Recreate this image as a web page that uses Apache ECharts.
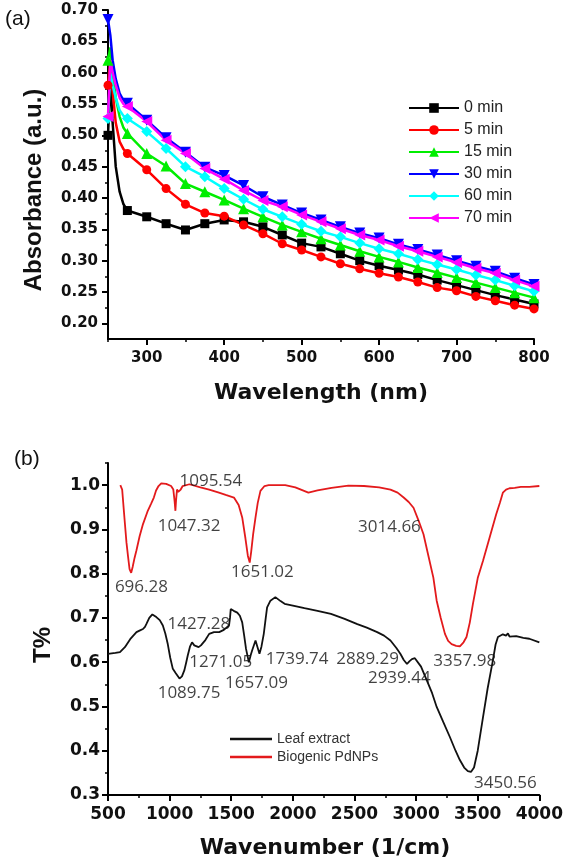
<!DOCTYPE html>
<html><head><meta charset="utf-8">
<script src="https://cdn.jsdelivr.net/npm/echarts@6/dist/echarts.min.js"></script>
<style>html,body{margin:0;padding:0;background:#fff}#c{width:566px;height:866px}</style>
</head><body><div id="c"></div>
<script>
// ---------- Panel (a): UV-Vis ----------
const uvWavelength = [250,253,256,260,265,270,275,300,325,350,375,400,425,450,475,500,525,550,575,600,625,650,675,700,725,750,775,800];
const uv0min  = [0.50,0.59,0.52,0.45,0.41,0.39,0.380,0.370,0.359,0.349,0.359,0.365,0.362,0.354,0.341,0.328,0.322,0.311,0.300,0.292,0.285,0.278,0.269,0.261,0.253,0.245,0.238,0.231];
const uv5min  = [0.58,0.62,0.57,0.52,0.49,0.478,0.471,0.445,0.415,0.390,0.376,0.371,0.357,0.343,0.327,0.317,0.306,0.295,0.287,0.280,0.274,0.266,0.257,0.252,0.243,0.236,0.229,0.223];
const uv15min = [0.62,0.64,0.60,0.56,0.53,0.512,0.503,0.471,0.451,0.423,0.410,0.397,0.383,0.370,0.357,0.346,0.335,0.325,0.315,0.306,0.298,0.289,0.281,0.273,0.265,0.257,0.249,0.241];
const uv30min = [0.685,0.66,0.62,0.59,0.567,0.556,0.551,0.524,0.496,0.473,0.449,0.436,0.420,0.402,0.389,0.376,0.365,0.354,0.344,0.336,0.326,0.318,0.309,0.300,0.291,0.283,0.272,0.262];
const uv60min = [0.527,0.60,0.58,0.56,0.54,0.531,0.527,0.506,0.479,0.450,0.434,0.415,0.398,0.382,0.370,0.358,0.347,0.338,0.328,0.319,0.311,0.302,0.294,0.286,0.277,0.269,0.260,0.251];
const uv70min = [0.53,0.62,0.60,0.58,0.56,0.55,0.546,0.522,0.492,0.471,0.447,0.430,0.412,0.396,0.386,0.373,0.362,0.351,0.341,0.333,0.323,0.315,0.306,0.297,0.288,0.280,0.269,0.259];
const uvNames = ['0 min','5 min','15 min','30 min','60 min','70 min'];
const uvXMajor = [300,400,500,600,700,800];
const uvXMinor = [250,350,450,550,650,750];
const uvYMajor = [0.20,0.25,0.30,0.35,0.40,0.45,0.50,0.55,0.60,0.65,0.70];
const uvYMinor = [0.225,0.275,0.325,0.375,0.425,0.475,0.525,0.575,0.625,0.675];

// ---------- Panel (b): FTIR ----------
const leafWn = [500,560,597,637,680,731,760,784,800,811,835,860,875,892,920,945,965,985,1005,1026,1050,1080,1100,1120,1135,1147,1165,1182,1200,1214,1235,1254,1290,1321,1360,1402,1440,1482,1490,1496,1520,1549,1570,1589,1605,1620,1643,1657,1670,1697,1712,1729,1745,1764,1780,1791,1818,1858,1900,1933,2000,2094,2200,2309,2420,2523,2600,2684,2740,2792,2840,2872,2900,2926,2945,2966,2990,3006,3040,3087,3130,3167,3220,3274,3320,3355,3390,3420,3445,3470,3500,3543,3580,3623,3645,3664,3704,3730,3745,3758,3812,3870,3919,4000];
const leafT  = [0.619,0.621,0.623,0.634,0.652,0.668,0.672,0.675,0.680,0.686,0.700,0.708,0.706,0.702,0.695,0.683,0.665,0.641,0.610,0.585,0.575,0.563,0.568,0.582,0.600,0.615,0.635,0.645,0.638,0.634,0.634,0.638,0.650,0.664,0.668,0.668,0.673,0.683,0.700,0.720,0.716,0.712,0.705,0.690,0.660,0.630,0.600,0.615,0.627,0.649,0.635,0.619,0.635,0.664,0.700,0.724,0.739,0.747,0.738,0.732,0.728,0.722,0.716,0.709,0.698,0.686,0.678,0.668,0.660,0.649,0.632,0.619,0.605,0.596,0.602,0.607,0.609,0.607,0.590,0.559,0.530,0.499,0.465,0.431,0.400,0.379,0.362,0.354,0.352,0.362,0.400,0.476,0.540,0.604,0.640,0.657,0.663,0.660,0.665,0.658,0.659,0.655,0.653,0.645];
const pdWn = [600,608,615,625,637,650,663,675,688,700,715,731,757,784,820,851,862,872,890,910,932,972,1012,1030,1040,1047,1052,1060,1070,1080,1090,1106,1160,1250,1321,1400,1455,1522,1560,1589,1615,1635,1650,1662,1678,1697,1715,1737,1770,1804,1938,2020,2126,2200,2314,2450,2577,2700,2792,2850,2899,2940,2979,3020,3060,3100,3140,3167,3200,3234,3260,3288,3325,3355,3385,3409,3436,3460,3500,3543,3600,3650,3680,3704,3730,3758,3800,3850,3919,4000];
const pdT  = [1.000,1.000,0.990,0.955,0.914,0.870,0.838,0.810,0.802,0.815,0.835,0.853,0.885,0.912,0.940,0.959,0.962,0.972,0.988,0.998,1.004,1.003,0.998,0.990,0.965,0.942,0.965,0.990,0.985,0.983,0.990,0.998,1.002,0.995,0.990,0.983,0.978,0.972,0.955,0.927,0.880,0.840,0.825,0.850,0.890,0.927,0.960,0.987,0.998,1.000,1.000,0.995,0.983,0.988,0.994,0.999,0.998,0.995,0.990,0.983,0.972,0.962,0.949,0.920,0.889,0.840,0.791,0.739,0.700,0.664,0.648,0.641,0.637,0.636,0.645,0.657,0.690,0.730,0.790,0.829,0.885,0.934,0.960,0.983,0.990,0.993,0.994,0.996,0.996,0.998];
const ftirNames = ['Leaf extract','Biogenic PdNPs'];
const ftirXMajor = [500,1000,1500,2000,2500,3000,3500,4000];
const ftirXMinor = [750,1250,1750,2250,2750,3250,3750];
const ftirYMajor = [0.3,0.4,0.5,0.6,0.7,0.8,0.9,1.0];
const ftirYMinor = [0.35,0.45,0.55,0.65,0.75,0.85,0.95,1.05];
// peak annotations: label text and the data position of its left/middle anchor
const peakText = ['696.28','1047.32','1095.54','1651.02','3014.66','1427.28','1271.05','1089.75','1657.09','1739.74','2889.29','2939.44','3357.98','3450.56'];
const peakLabelWn = [556,903,1080,1498,2529,983,1160,903,1450,1780,2352,2609,3140,3470];
const peakLabelT  = [0.770,0.908,1.009,0.804,0.905,0.686,0.600,0.530,0.553,0.607,0.607,0.564,0.603,0.327];

const chart = echarts.init(document.getElementById('c'), null, {renderer:'canvas'});
const tickFont = {fontFamily:'DejaVu Sans', fontWeight:'bold', color:'#111'};
const axisLineStyle = {show:true, lineStyle:{color:'#000', width:2}};

function mkAxis(dim, grid, min, max, major, minor, labelFmt, fontSize, margin) {
  return [
    {type:'value', gridIndex:grid, min:min, max:max, position: dim==='x'?'bottom':'left',
     axisLine:axisLineStyle, splitLine:{show:false},
     axisTick:{show:true, inside:false, length:6, customValues:major, lineStyle:{color:'#000', width:2}},
     axisLabel:{show:true, customValues:major, formatter:labelFmt, fontSize:fontSize, margin:margin, ...tickFont}},
    {type:'value', gridIndex:grid, min:min, max:max, position: dim==='x'?'bottom':'left',
     axisLine:{show:false}, splitLine:{show:false},
     axisTick:{show:true, inside:false, length:3, customValues:minor, lineStyle:{color:'#000', width:1.5}},
     axisLabel:{show:false}}
  ];
}

const uvData = [uv0min, uv5min, uv15min, uv30min, uv60min, uv70min];
const uvColors = ['#000000','#ff0000','#00ee00','#0000ff','#00ffff','#ff00ff'];
const uvSymbols = ['rect','circle','triangle','triangle','diamond','triangle'];
const uvRot = [0,0,0,180,0,90];
const uvSizes = [9,9,11,11,11,11];

const series = uvData.map((vals, i) => ({
  name: uvNames[i], type:'line', xAxisIndex:0, yAxisIndex:0,
  symbol: uvSymbols[i], symbolRotate: uvRot[i], symbolSize: uvSizes[i], showAllSymbol:true,
  lineStyle:{color:uvColors[i], width:2.5}, itemStyle:{color:uvColors[i]},
  emphasis:{disabled:true}, animation:false,
  data: uvWavelength.map((w, k) => (w % 25 === 0) ? [w, vals[k]] : {value:[w, vals[k]], symbol:'none'})
}));

const ftirColors = ['#111111','#e31a1c'];
series.push({
  name: ftirNames[0], type:'line', xAxisIndex:2, yAxisIndex:2, symbol:'none',
  lineStyle:{color:ftirColors[0], width:1.8}, itemStyle:{color:ftirColors[0]}, emphasis:{disabled:true}, animation:false,
  data: leafWn.map((w,k) => [w, leafT[k]])
});
series.push({
  name: ftirNames[1], type:'line', xAxisIndex:2, yAxisIndex:2, symbol:'none',
  lineStyle:{color:ftirColors[1], width:1.8}, itemStyle:{color:ftirColors[1]}, emphasis:{disabled:true}, animation:false,
  data: pdWn.map((w,k) => [w, pdT[k]])
});
series.push({
  type:'scatter', xAxisIndex:2, yAxisIndex:2, symbolSize:0, silent:true, z:10, animation:false,
  emphasis:{disabled:true},
  label:{show:true, position:'inside', align:'left', verticalAlign:'middle',
         formatter: p => p.data[2], fontFamily:'Open Sans', fontSize:17, color:'#111', textBorderWidth:0},
  data: peakText.map((t,k) => [peakLabelWn[k], peakLabelT[k], t])
});

const option = {
  backgroundColor:'#fff',
  animation:false,
  grid:[
    {left:108, top:10, width:426, height:329, containLabel:false},
    {left:108, top:463, width:435, height:332, containLabel:false}
  ],
  xAxis:[
    ...mkAxis('x',0,250,800,uvXMajor,uvXMinor, v => String(v), 15, 12),
    ...mkAxis('x',1,500,4000,ftirXMajor,ftirXMinor, v => String(v), 17, 11)
  ],
  yAxis:[
    ...mkAxis('y',0,0.175,0.70,uvYMajor,uvYMinor, v => v.toFixed(2), 15, 10),
    ...mkAxis('y',1,0.3,1.05,ftirYMajor,ftirYMinor, v => v.toFixed(1), 17, 8)
  ],
  legend:[
    {data: uvNames, orient:'vertical', left:403, top:95, itemWidth:50, itemHeight:12, itemGap:6,
     textStyle:{fontFamily:'Liberation Sans', fontSize:16, color:'#222'}, selectedMode:false},
    {data: ftirNames.map((n,i) => ({name:n, icon:'rect', itemStyle:{color:ftirColors[i]}})),
     orient:'vertical', left:225, top:727, itemWidth:42, itemHeight:2.5, itemGap:4,
     textStyle:{fontFamily:'Liberation Sans', fontSize:14, color:'#333'}, selectedMode:false}
  ],
  graphic:[
    {type:'text', left:5, top:9, style:{text:'(a)', font:'21px "Liberation Sans"', fill:'#111'}},
    {type:'text', left:14, top:449, style:{text:'(b)', font:'21px "Liberation Sans"', fill:'#111'}},
    {type:'text', x:34, y:190, rotation:Math.PI/2, style:{text:'Absorbance (a.u.)', font:'bold 24px "Liberation Sans"', fill:'#111', align:'center', verticalAlign:'middle'}},
    {type:'text', x:43, y:645, rotation:Math.PI/2, style:{text:'T%', font:'bold 24px "Liberation Sans"', fill:'#111', align:'center', verticalAlign:'middle'}},
    {type:'text', x:321, y:393, style:{text:'Wavelength (nm)', font:'bold 22px "DejaVu Sans"', fill:'#111', align:'center', verticalAlign:'middle'}},
    {type:'text', x:325, y:848, style:{text:'Wavenumber (1/cm)', font:'bold 22px "DejaVu Sans"', fill:'#111', align:'center', verticalAlign:'middle'}}
  ],
  series: series
};
chart.setOption(option);
</script>
</body></html>
